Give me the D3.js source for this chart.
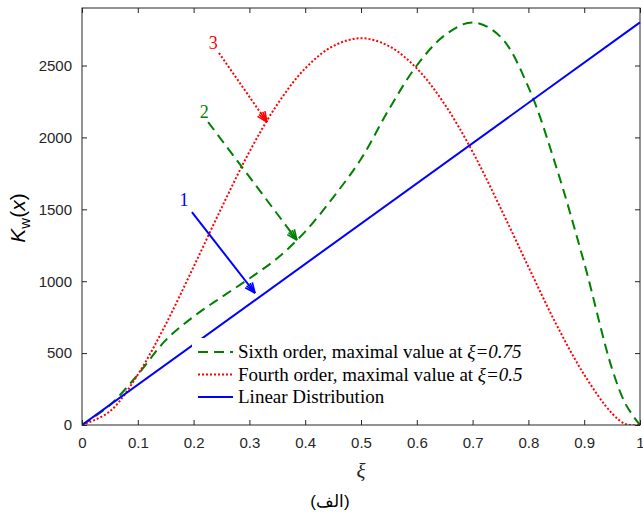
<!DOCTYPE html>
<html>
<head>
<meta charset="utf-8">
<script src="https://cdn.jsdelivr.net/npm/d3@7/dist/d3.min.js"></script>
<style>
  html, body { margin: 0; padding: 0; background: #fff; }
  svg { display: block; }
</style>
</head>
<body>
<svg id="chart" width="643" height="518"></svg>
<script>
// ---- data ----
const xiTicks = [0, 0.1, 0.2, 0.3, 0.4, 0.5, 0.6, 0.7, 0.8, 0.9, 1];
const xiTickLabels = ["0", "0.1", "0.2", "0.3", "0.4", "0.5", "0.6", "0.7", "0.8", "0.9", "1"];
const kTicks = [0, 500, 1000, 1500, 2000, 2500];
const kTickLabels = ["0", "500", "1000", "1500", "2000", "2500"];

// Sixth order (green dashed)
const sixthXi = [0, 0.05, 0.1, 0.15, 0.2, 0.25, 0.3, 0.35, 0.4, 0.45, 0.5, 0.55, 0.6, 0.65, 0.7, 0.75, 0.8, 0.85, 0.9, 0.95, 0.975, 1];
const sixthK  = [0, 139, 350, 590, 754, 889, 1019, 1160, 1345, 1582, 1850, 2195, 2500, 2710, 2800, 2700, 2350, 1793, 1127, 390, 140, 0];

// Fourth order (red dotted)
const fourthXi = [0, 0.05, 0.1, 0.15, 0.2, 0.25, 0.3, 0.35, 0.4, 0.45, 0.5, 0.55, 0.6, 0.65, 0.7, 0.75, 0.8, 0.85, 0.9, 0.95, 0.975, 1];
const fourthK  = [0, 95, 350, 700, 1100, 1510, 1900, 2230, 2480, 2635, 2690, 2635, 2480, 2230, 1900, 1510, 1100, 700, 350, 80, 5, 0];

// Linear distribution (blue)
const linearXi = [0, 1];
const linearK  = [0, 2800];

const legendLabels = ["Sixth order, maximal value at ", "Fourth order, maximal value at ", "Linear Distribution"];
const legendItalic = ["\u03BE=0.75", "\u03BE=0.5", ""];

// annotations (data units)
const annLabels = ["1", "2", "3"];
const annLabelPos = [[0.183, 1565], [0.219, 2177], [0.235, 2657]];
const annStart = [[0.197, 1481], [0.226, 2107], [0.2455, 2587]];
const annEnd   = [[0.310, 918], [0.385, 1287], [0.3315, 2107]];
const annSeries = [2, 0, 1];

// ---- styles ----
const colors = ["#008000", "#ff0000", "#0000ff"];
const dashes = ["10,6", "2,2", null];
const axisColor = "#262626";

const svg = d3.select("#chart");
const L = 82, R = 640, T = 8, B = 425;
const x = d3.scaleLinear().domain([0, 1]).range([L, R]);
const y = d3.scaleLinear().domain([0, 2900]).range([B, T]);

// series
const series = [
  sixthXi.map((v, i) => [v, sixthK[i]]),
  fourthXi.map((v, i) => [v, fourthK[i]]),
  linearXi.map((v, i) => [v, linearK[i]])
];
const line = d3.line().x(d => x(d[0])).y(d => y(d[1])).curve(d3.curveCatmullRom.alpha(0.5));

svg.append("defs").append("clipPath").attr("id", "clip")
  .append("rect").attr("x", L).attr("y", T - 2).attr("width", R - L + 2).attr("height", B - T + 2);

const plot = svg.append("g").attr("clip-path", "url(#clip)");
series.forEach((s, i) => {
  plot.append("path")
    .attr("d", line(s))
    .attr("fill", "none")
    .attr("stroke", colors[i])
    .attr("stroke-width", 2)
    .attr("stroke-dasharray", dashes[i]);
});

// annotations
function arrowHead(g, sx, sy, ex, ey, color) {
  const ang = Math.atan2(ey - sy, ex - sx);
  const len = 11, spread = 0.42;
  [-spread, -spread / 2, 0, spread / 2, spread].forEach(a => {
    g.append("line")
      .attr("x1", ex).attr("y1", ey)
      .attr("x2", ex - len * Math.cos(ang + a))
      .attr("y2", ey - len * Math.sin(ang + a))
      .attr("stroke", color).attr("stroke-width", 1.6);
  });
}
annLabels.forEach((lab, i) => {
  const si = annSeries[i];
  const color = colors[si];
  const sx = x(annStart[i][0]), sy = y(annStart[i][1]);
  const ex = x(annEnd[i][0]), ey = y(annEnd[i][1]);
  svg.append("line")
    .attr("x1", sx).attr("y1", sy).attr("x2", ex).attr("y2", ey)
    .attr("stroke", color).attr("stroke-width", 2)
    .attr("stroke-dasharray", dashes[si]);
  arrowHead(svg.append("g"), sx, sy, ex, ey, color);
  svg.append("text")
    .attr("x", x(annLabelPos[i][0])).attr("y", y(annLabelPos[i][1]))
    .attr("text-anchor", "middle").attr("dominant-baseline", "central")
    .attr("font-family", "Liberation Serif, Times New Roman, serif")
    .attr("font-size", 18).attr("fill", color)
    .text(lab);
});

// axes box and ticks
const ax = svg.append("g");
ax.append("rect").attr("x", L).attr("y", T).attr("width", R - L).attr("height", B - T)
  .attr("fill", "none").attr("stroke", axisColor).attr("stroke-width", 1);

const xAxis = d3.axisBottom(x).tickValues(xiTicks).tickFormat((d, i) => xiTickLabels[i]).tickSizeInner(-5).tickSizeOuter(0).tickPadding(12);
const gx = svg.append("g").attr("transform", `translate(0,${B})`).call(xAxis);
const xAxisTop = d3.axisTop(x).tickValues(xiTicks).tickFormat("").tickSizeInner(-5).tickSizeOuter(0);
const gxt = svg.append("g").attr("transform", `translate(0,${T})`).call(xAxisTop);
const yAxis = d3.axisLeft(y).tickValues(kTicks).tickFormat((d, i) => kTickLabels[i]).tickSizeInner(-5).tickSizeOuter(0).tickPadding(10);
const gy = svg.append("g").attr("transform", `translate(${L},0)`).call(yAxis);
const yAxisR = d3.axisRight(y).tickValues(kTicks).tickFormat("").tickSizeInner(-5).tickSizeOuter(0);
const gyr = svg.append("g").attr("transform", `translate(${R},0)`).call(yAxisR);
[gx, gxt, gy, gyr].forEach(g => {
  g.select(".domain").remove();
  g.selectAll("line").attr("stroke", axisColor);
  g.selectAll("text").attr("fill", axisColor)
    .attr("font-family", "Liberation Sans, Arial, sans-serif").attr("font-size", 15);
});
// keep the last x tick label inside the window
gx.selectAll(".tick").filter(d => d === 1).select("text").attr("text-anchor", "end").attr("dx", "4");

// legend
const lg = svg.append("g");
lg.append("rect").attr("x", 192).attr("y", 338).attr("width", 340).attr("height", 72).attr("fill", "#fff");
legendLabels.forEach((lab, i) => {
  const ly = 352 + i * 22.5;
  lg.append("line").attr("x1", 198).attr("x2", 233).attr("y1", ly).attr("y2", ly)
    .attr("stroke", colors[i]).attr("stroke-width", 2).attr("stroke-dasharray", dashes[i]);
  const t = lg.append("text").attr("x", 238).attr("y", ly + 6)
    .attr("font-family", "Liberation Serif, Times New Roman, serif").attr("font-size", 19).attr("fill", "#000");
  t.append("tspan").text(lab);
  if (legendItalic[i]) t.append("tspan").attr("font-style", "italic").text(legendItalic[i]);
});

// axis labels
svg.append("text").attr("x", x(0.5)).attr("y", 478)
  .attr("text-anchor", "middle").attr("font-family", "Liberation Serif, Times New Roman, serif")
  .attr("font-style", "italic").attr("font-size", 21).attr("fill", axisColor).text("\u03BE");

svg.append("text").attr("x", 330).attr("y", 507)
  .attr("text-anchor", "middle").attr("font-family", "Liberation Sans, Arial, sans-serif")
  .attr("font-size", 17).attr("fill", "#000").attr("direction", "rtl").text("(الف)");

const yl = svg.append("text").attr("transform", "translate(25,218) rotate(-90)")
  .attr("text-anchor", "middle").attr("font-family", "Liberation Sans, Arial, sans-serif")
  .attr("font-size", 21).attr("fill", "#000");
yl.append("tspan").attr("font-style", "italic").text("K");
yl.append("tspan").attr("font-size", 15).attr("dy", 5).text("w");
yl.append("tspan").attr("dy", -5).text("(");
yl.append("tspan").attr("font-style", "italic").text("x");
yl.append("tspan").text(")");
</script>
</body>
</html>
